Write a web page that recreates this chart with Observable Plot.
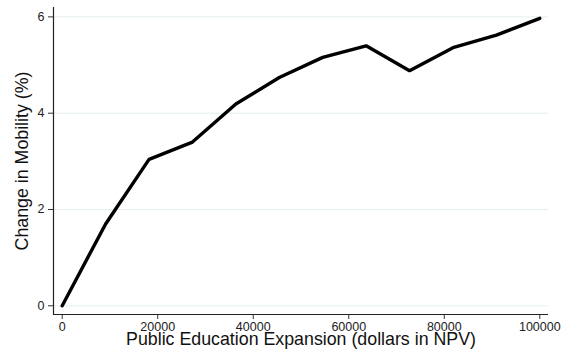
<!DOCTYPE html>
<html><head><meta charset="utf-8">
<script src="https://cdn.jsdelivr.net/npm/d3@7"></script>
<script src="https://cdn.jsdelivr.net/npm/@observablehq/plot@0.6"></script>
<style>body{margin:0;background:#fff} svg{display:block}</style>
</head><body><div id="chart"></div>
<script>
const expansion = [0, 9091, 18182, 27273, 36364, 45455, 54545, 63636, 72727, 81818, 90909, 100000];
const mobility = [0, 1.70, 3.04, 3.40, 4.19, 4.74, 5.16, 5.40, 4.88, 5.36, 5.62, 5.97];
const xTicks = [0, 20000, 40000, 60000, 80000, 100000];
const yTicks = [0, 2, 4, 6];
const xTitle = "Public Education Expansion (dollars in NPV)";
const yTitle = "Change in Mobility (%)";

const data = expansion.map((x, i) => ({x, y: mobility[i]}));
const xDomain = [-1822, 101822];
const yDomain = [-0.181, 6.195];
const font = "'Liberation Sans', Arial, Helvetica, sans-serif";

const chart = Plot.plot({
  width: 567,
  height: 356,
  marginLeft: 53,
  marginRight: 19,
  marginTop: 7,
  marginBottom: 42,
  style: {fontFamily: font, background: "#fff", color: "#222"},
  x: {domain: xDomain},
  y: {domain: yDomain},
  marks: [
    Plot.gridY(yTicks, {stroke: "#e4eef0", strokeOpacity: 1, strokeWidth: 1}),
    Plot.axisY(yTicks, {tickSize: 5, tickPadding: 4, fontSize: 12.5, label: null, tickFormat: d3.format("d"), stroke: "#333"}),
    Plot.axisX(xTicks, {tickSize: 5, tickPadding: 3, fontSize: 12.5, label: null, tickFormat: d3.format("d"), stroke: "#333"}),
    Plot.ruleX([xDomain[0]], {stroke: "#222", strokeWidth: 1.2}),
    Plot.ruleY([yDomain[0]], {stroke: "#222", strokeWidth: 1.2}),
    Plot.line(data, {x: "x", y: "y", stroke: "#000", strokeWidth: 3.4, strokeLinejoin: "miter"}),
    Plot.text([yTitle], {frameAnchor: "left", rotate: -90, dx: -31, fontSize: 17.8, textAnchor: "middle", fill: "#111"}),
    Plot.text([xTitle], {frameAnchor: "bottom", dy: 30, fontSize: 17.8, textAnchor: "middle", fill: "#111"})
  ]
});
document.getElementById("chart").appendChild(chart);
</script>
</body></html>
